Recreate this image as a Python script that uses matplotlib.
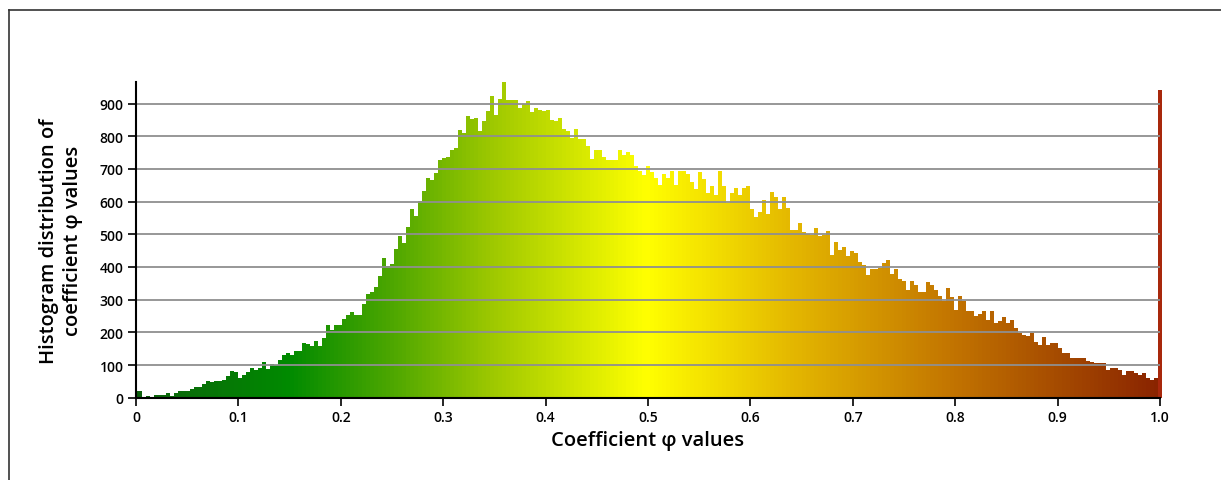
import numpy as np
import matplotlib
matplotlib.use("Agg")
import matplotlib.pyplot as plt
from matplotlib.colors import LinearSegmentedColormap
from matplotlib.lines import Line2D

# histogram counts, one per bin centred at k/256 (k = 0..256)
counts = [
    22, 22, 1, 4, 1, 8, 8, 8, 14, 6, 14, 22, 22, 22, 27, 33, 33, 43, 51, 47,
    51, 51, 55, 65, 82, 78, 61, 69, 78, 92, 86, 90, 109, 88, 104, 101, 114, 130, 138, 130,
    142, 142, 167, 163, 159, 173, 157, 184, 222, 206, 222, 222, 240, 252, 262, 252, 252, 286, 318, 322,
    339, 373, 427, 402, 410, 456, 494, 473, 522, 577, 555, 601, 634, 672, 665, 687, 728, 733, 738, 759,
    764, 818, 810, 861, 854, 856, 815, 846, 877, 923, 864, 913, 965, 911, 911, 911, 885, 899, 909, 873,
    885, 879, 878, 879, 851, 848, 856, 823, 815, 795, 823, 791, 791, 769, 731, 759, 757, 738, 726, 726,
    726, 757, 744, 752, 742, 708, 695, 682, 709, 691, 672, 650, 686, 672, 695, 650, 695, 693, 686, 660,
    640, 691, 670, 627, 648, 621, 695, 648, 597, 627, 643, 619, 643, 648, 576, 553, 568, 604, 563, 630,
    614, 576, 614, 581, 514, 514, 536, 507, 502, 497, 519, 494, 497, 510, 438, 475, 451, 460, 433, 449,
    443, 415, 407, 377, 395, 395, 397, 413, 422, 378, 395, 362, 357, 330, 356, 346, 324, 322, 353, 345,
    330, 312, 297, 335, 307, 269, 312, 297, 264, 264, 251, 256, 264, 239, 264, 228, 234, 246, 228, 239,
    212, 197, 192, 188, 198, 171, 162, 185, 162, 166, 166, 151, 137, 137, 123, 123, 123, 123, 113, 108,
    106, 106, 106, 86, 91, 91, 86, 69, 81, 81, 75, 70, 75, 59, 54, 59, 942,
]
n_bins = 256
x_ticks = [0, 0.1, 0.2, 0.3, 0.4, 0.5, 0.6, 0.7, 0.8, 0.9, 1.0]
x_tick_labels = ["0", "0.1", "0.2", "0.3", "0.4", "0.5", "0.6", "0.7", "0.8", "0.9", "1.0"]
y_ticks = [0, 100, 200, 300, 400, 500, 600, 700, 800, 900]

plt.rcParams['font.family'] = ['Open Sans', 'DejaVu Sans']

centers = np.arange(len(counts)) / n_bins
width = 1.0 / n_bins

cmap = LinearSegmentedColormap.from_list("phi", [
    (0.00, "#0d5f0d"),
    (0.15, "#008a00"),
    (0.25, "#4ca600"),
    (0.35, "#9ec800"),
    (0.50, "#ffff00"),
    (0.65, "#e2b400"),
    (0.80, "#c27400"),
    (1.00, "#8a2400"),
])
colors = [cmap(c) for c in centers]

fig = plt.figure(figsize=(12.21, 4.81), dpi=100)
ax = fig.add_axes([136 / 1221, 1 - 398.7 / 481, 1024 / 1221, 316 / 481])

ax.bar(centers[:-1], counts[:-1], width=width, color=colors[:-1], linewidth=0, zorder=2)
# the phi = 1.0 bin sits on the axis end, drawn unclipped like the original
ax.bar(centers[-1:], counts[-1:], width=width * 0.8, color="#a8280c", linewidth=0,
       zorder=2, clip_on=False)

for y in y_ticks[1:]:
    ax.axhline(y, color="#8f8f8f", linewidth=1.3, zorder=3)

ax.set_xlim(0, 1.0)
ax.set_ylim(0, 967)
ax.set_xticks(x_ticks)
ax.set_xticklabels(x_tick_labels)
ax.set_yticks(y_ticks)
ax.tick_params(axis="both", direction="out", length=6, width=1.2, labelsize=10, pad=3)
for lbl in ax.get_xticklabels() + ax.get_yticklabels():
    lbl.set_fontweight("semibold")

for side in ["top", "right"]:
    ax.spines[side].set_visible(False)
for side in ["left", "bottom"]:
    ax.spines[side].set_linewidth(1.5)
    ax.spines[side].set_zorder(4)

ax.set_xlabel("Coefficient φ values", fontsize=14.5, fontweight="semibold", labelpad=4)
ax.set_ylabel("Histogram distribution of\ncoefficient φ values", fontsize=14.5,
              fontweight="semibold", labelpad=12, linespacing=1.25)

# outer frame, only top and left edges visible in the original
fig.add_artist(Line2D([9 / 1221, 1], [1 - 11 / 481, 1 - 11 / 481], color="#333333", linewidth=1.2))
fig.add_artist(Line2D([9 / 1221, 9 / 1221], [0, 1 - 11 / 481], color="#333333", linewidth=1.2))

fig.savefig("out.png", dpi=100)
